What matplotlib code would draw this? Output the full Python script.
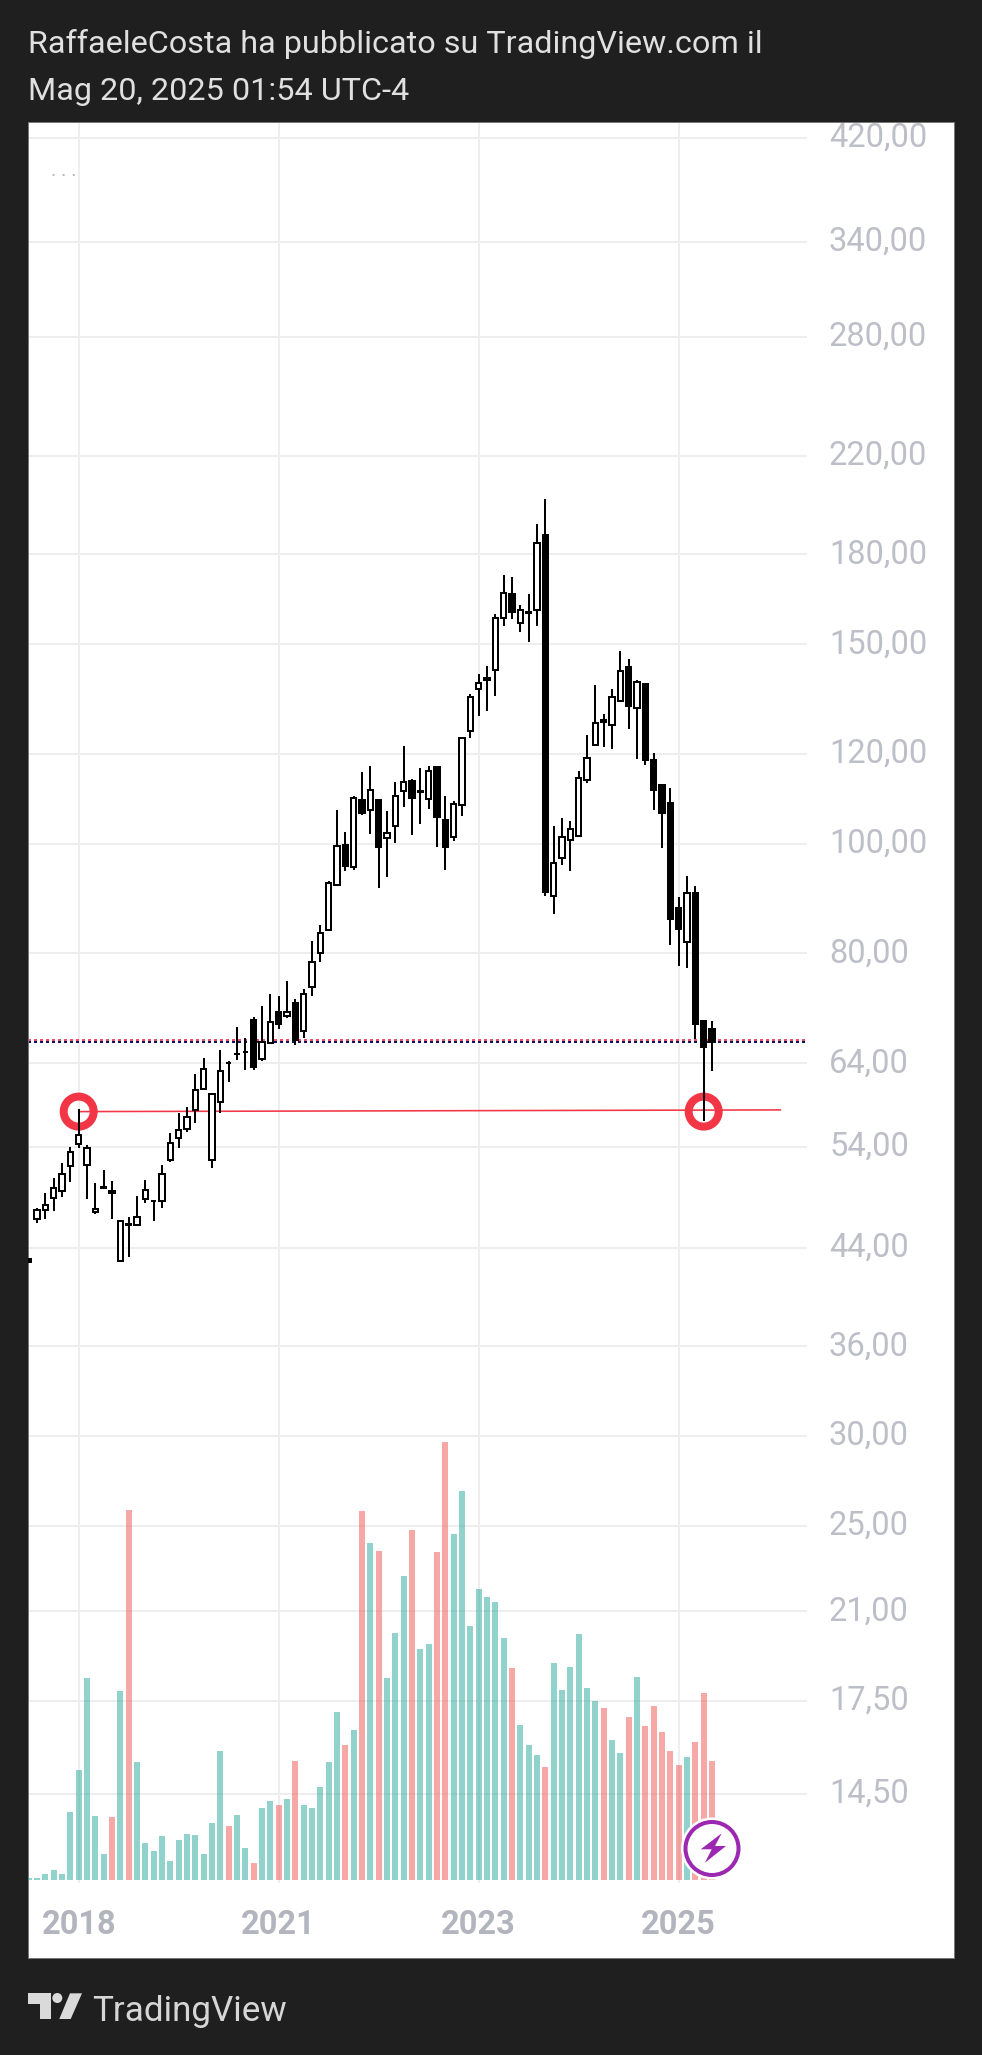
import matplotlib
matplotlib.use("Agg")
import matplotlib.pyplot as plt
from matplotlib.patches import Circle, Polygon
from matplotlib.transforms import ScaledTranslation
import numpy as np

plt.rcParams['font.family'] = ['Roboto', 'DejaVu Sans']

# monthly-ish bars
opens = [43.00, 46.61, 47.50, 48.68, 49.37, 51.95, 54.29, 52.05, 47.28, 49.68, 49.40, 42.83, 46.08, 46.07, 48.58,
         48.33, 48.38, 52.55, 54.98, 55.97, 58.16, 60.75, 52.58, 59.16, 63.98, 65.23, 65.46, 69.89, 64.52, 66.65,
         71.00, 70.48, 72.30, 68.34, 74.78, 80.02, 83.96, 91.90, 99.69, 95.44, 109.21, 107.08, 109.30, 101.20, 103.62,
         111.30, 113.52, 111.18, 109.45, 116.83, 104.88, 101.40, 108.10, 125.71, 137.00, 140.00, 142.25, 158.20, 166.00, 156.50,
         160.10, 160.80, 187.15, 89.90, 97.13, 100.77, 101.60, 113.80, 122.30, 128.70, 127.30, 133.70, 143.10, 131.80, 138.30,
         118.50, 112.60, 108.55, 87.70, 81.85, 90.45, 69.70, 68.60]
highs = [43.00, 47.67, 49.13, 50.69, 52.23, 53.96, 58.28, 54.21, 50.15, 51.49, 50.38, 46.48, 46.80, 48.87, 50.49,
         48.48, 52.02, 55.49, 57.80, 58.52, 62.62, 64.65, 60.22, 65.75, 64.29, 68.86, 67.33, 70.26, 71.91, 73.65,
         73.39, 75.65, 72.89, 74.39, 82.06, 84.77, 92.64, 107.08, 102.35, 110.09, 115.65, 117.05, 109.45, 106.86, 113.36,
         122.00, 113.98, 116.70, 117.05, 117.05, 110.20, 109.05, 124.00, 135.60, 141.22, 143.50, 159.55, 172.70, 171.90, 162.50,
         166.20, 191.60, 201.60, 103.67, 105.30, 104.73, 115.85, 124.70, 138.10, 130.20, 137.00, 147.90, 145.60, 139.50, 138.30,
         120.20, 112.60, 111.90, 89.80, 93.70, 91.80, 69.90, 69.75]
lows = [42.74, 46.29, 46.64, 47.41, 48.71, 50.31, 53.91, 48.55, 47.14, 49.68, 46.61, 42.83, 43.20, 46.07, 48.16,
        46.39, 47.67, 52.30, 53.85, 55.59, 56.65, 60.75, 51.71, 57.88, 61.64, 64.43, 63.13, 63.13, 64.34, 66.65,
        68.62, 70.19, 66.43, 67.33, 73.37, 78.67, 83.80, 91.78, 94.66, 94.80, 106.03, 102.00, 91.45, 93.50, 100.20,
        107.81, 101.80, 104.10, 107.30, 99.22, 94.85, 100.62, 105.80, 124.00, 129.70, 130.90, 134.87, 155.80, 157.90, 153.90,
        150.80, 155.80, 89.96, 86.72, 95.77, 94.66, 101.45, 113.20, 122.20, 121.60, 121.10, 133.70, 126.20, 118.70, 117.40,
        107.10, 99.20, 81.35, 78.00, 77.70, 67.20, 56.90, 63.05]
closes = [42.74, 47.50, 47.99, 49.67, 51.13, 53.47, 55.31, 53.91, 47.60, 49.72, 49.14, 46.48, 46.12, 46.83, 49.47,
          48.37, 51.13, 54.46, 55.92, 57.41, 60.63, 63.30, 60.12, 63.05, 64.02, 65.27, 65.50, 63.56, 66.87, 69.64,
          69.32, 71.07, 67.10, 73.71, 78.67, 83.44, 92.38, 99.61, 95.64, 109.79, 106.53, 111.53, 99.41, 102.20, 110.20,
          113.43, 109.80, 111.22, 115.84, 105.60, 99.22, 108.47, 124.00, 134.71, 138.50, 139.60, 158.30, 166.60, 160.00, 160.80,
          159.90, 184.40, 90.70, 96.22, 101.45, 102.97, 114.36, 119.10, 127.90, 128.10, 134.60, 142.14, 132.20, 138.80, 118.60,
          111.60, 106.50, 85.80, 84.10, 90.45, 69.30, 66.20, 66.75]
volumes = [2, 2, 6, 10, 6, 68, 110, 202, 64, 26, 63, 189, 370, 118, 37,
           29, 44, 19, 40, 46, 45, 26, 57, 129, 54, 65, 32, 17, 72, 79,
           75, 81, 119, 75, 72, 93, 118, 168, 135, 150, 369, 337, 329, 202, 247,
           304, 350, 231, 236, 328, 438, 346, 389, 254, 291, 283, 278, 242, 212, 155,
           135, 125, 113, 217, 190, 213, 246, 192, 179, 172, 140, 127, 163, 203, 154,
           174, 148, 129, 115, 123, 138, 187, 119]
# volume colour does not follow the candle here, these are the red bars
vol_red = [10, 12, 24, 27, 30, 32, 38, 40, 42, 46, 49, 50, 58, 62, 69, 72, 74, 75, 76, 77, 78, 80, 81, 82]

price_ticks = [420, 340, 280, 220, 180, 150, 120, 100, 80, 64, 54, 44, 36, 30, 25, 21, 17.5, 14.5]
price_labels = ['420,00', '340,00', '280,00', '220,00', '180,00', '150,00', '120,00', '100,00', '80,00',
                '64,00', '54,00', '44,00', '36,00', '30,00', '25,00', '21,00', '17,50', '14,50']
year_pos = [6, 30, 54, 78]
year_labels = ['2018', '2021', '2023', '2025']
last_price = 66.9
support = [58.0, 58.2]
support_x = [6, 90.2]
circle_x = [6, 81]
circle_p = [58.0, 58.0]

BG = '#1f1f1f'
GRID = '#eeeeee'
PX = 0.72  # one pixel in points at dpi 100

fig = plt.figure(figsize=(9.82, 20.55), dpi=100, facecolor=BG)
ax = fig.add_axes([28 / 982, 1 - 1958 / 2055, 926 / 982, 1836 / 2055], facecolor='white')
ax.set_yscale('log')
ax.set_xlim(-0.084, 111.04)
ax.set_ylim(10.38, 433.6)

for p in price_ticks:
    ax.axhline(p, xmax=0.84, color=GRID, lw=2 * PX, zorder=1)
for x in year_pos:
    ax.axvline(x, ymin=0.0414, color=GRID, lw=2 * PX, zorder=1)

for s in ax.spines.values():
    s.set_color('#777777')
    s.set_linewidth(PX)

# red support line and rings, under the candles
ax.plot(support_x, support, color='#f23645', lw=1.6 * PX, zorder=2)
ax.scatter(circle_x, circle_p, s=(30 * PX) ** 2, facecolors='none', edgecolors='#f23645', linewidths=8 * PX, zorder=2)

# last price dots, red and navy rows
for offs, col in [(1.003, '#f0506a'), (0.999, '#14145a')]:
    ax.axhline(last_price * offs, xmax=0.84, color=col, lw=2 * PX, ls=(0, (1.5, 1.5)), dash_capstyle='butt', zorder=2)

idx = np.arange(len(opens))
o = np.array(opens)
c = np.array(closes)
ax.vlines(idx, lows, highs, color='black', lw=2 * PX, zorder=3)
face = ['white' if cc >= oo else 'black' for oo, cc in zip(opens, closes)]
ax.bar(idx, np.abs(c - o), bottom=np.minimum(o, c), width=0.66, color=face, edgecolor='black', linewidth=2 * PX, zorder=4)

ax.text(51 / 982, 1 - 176 / 2055, '. . .', transform=fig.transFigure, fontsize=14, color='#b4b4b4', va='baseline')

# volume, own linear scale on the same pane
ax2 = ax.twinx()
ax2.set_ylim(-78, 1758)
ax2.set_yticks([])
ax2.patch.set_visible(False)
for s in ax2.spines.values():
    s.set_visible(False)
vol_col = ['#ef5350' if i in vol_red else '#26a69a' for i in idx]
ax2.bar(idx, volumes, width=0.72, color=vol_col, alpha=0.5, linewidth=0)

# twinx flips the price ticks to the left, so set them up here
ax.set_yticks(price_ticks)
ax.set_yticklabels(price_labels)
ax.minorticks_off()
ax.yaxis.tick_right()
ax.tick_params(axis='y', length=0, pad=-125 * PX, labelsize=23.5, labelcolor='#bcbfc8')
up = ScaledTranslation(0, 3.5 * PX / 72, fig.dpi_scale_trans)
for t in ax.get_yticklabels():
    t.set_transform(t.get_transform() + up)
ax.set_xticks(year_pos)
ax.set_xticklabels(year_labels, fontweight=600)
ax.tick_params(axis='x', length=0, pad=-49 * PX, labelsize=23.5, labelcolor='#b2b5be')

# overlay in pixels for the header, footer and the two icons
ov = fig.add_axes([0, 0, 1, 1])
ov.set_xlim(0, 982)
ov.set_ylim(2055, 0)
ov.axis('off')
ov.text(28, 53, 'RaffaeleCosta ha pubblicato su TradingView.com il', fontsize=23.3, color='#e0e0e0', va='baseline')
ov.text(28, 100.5, 'Mag 20, 2025 01:54 UTC-4', fontsize=23.3, color='#e0e0e0', va='baseline')

ov.add_patch(Circle((712, 1848.5), 31, fc='white', ec='none'))
ov.add_patch(Circle((712, 1848.5), 26.5, fc='white', ec='#9c27b0', lw=4 * PX))
ov.add_patch(Polygon([(721.7, 1833.3), (700.7, 1849.3), (711.7, 1849.3), (705, 1862.7), (726, 1846), (715, 1846)], fc='#9c27b0', ec='none'))

logo = '#dadada'
ov.add_patch(Polygon([(28.3, 1993.3), (50.7, 1993.3), (50.7, 2019), (40, 2019), (40, 2004), (28.3, 2004)], fc=logo, ec='none'))
ov.add_patch(Circle((57.3, 1998), 5, fc=logo, ec='none'))
ov.add_patch(Polygon([(70, 1993.3), (82, 1993.3), (70.7, 2019), (59.3, 2019)], fc=logo, ec='none'))
ov.text(92, 2020.5, 'TradingView', fontsize=25.2, color='#d6d6d6', va='baseline')

fig.savefig('out.png', dpi=100, facecolor=BG)
